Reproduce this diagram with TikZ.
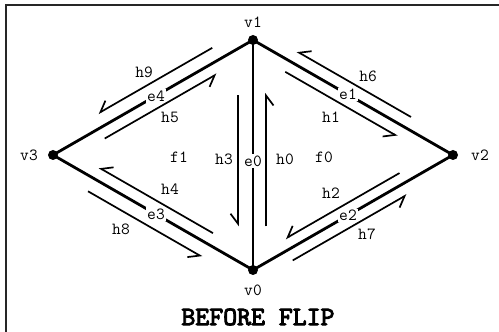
\documentclass[tikz,border=0pt]{standalone}
\usepackage{fontspec}
\newfontfamily\titlefont{lmmono10-regular.otf}[FakeBold=3.5]
\usetikzlibrary{calc,arrows.meta}
\begin{document}
\begin{tikzpicture}[x=1pt,y=1pt,
  vert/.style={circle,fill=black,inner sep=0pt,minimum size=10pt},
  edge/.style={line width=2.8pt},
  half/.style={line width=1.7pt,-{Straight Barb[harpoon,swap,length=10pt,width=15pt]}},
  lab/.style={font=\ttfamily\fontsize{17}{19}\selectfont,inner sep=1pt},
  elabel/.style={lab,fill=white,inner sep=1.5pt},
  frame/.style={line width=2pt,black!85}]
\useasboundingbox (0,0) rectangle (499,332);
\draw[frame] (6,0) -- (6,327) -- (499,327);
% vertices
\node[vert] (v0) at (253,62) {};
\node[vert] (v1) at (253,292) {};
\node[vert] (v2) at (453,177) {};
\node[vert] (v3) at (53,177) {};
\node[lab] at (253,310) {v1};
\node[lab] at (253,42) {v0};
\node[lab] at (29,177) {v3};
\node[lab] at (480,177) {v2};
% edges
\draw[edge] (v0.center) -- node[elabel,pos=.474] (e0) {e0} (v1.center);
\draw[edge] (v1.center) -- node[elabel,pos=.475] (e1) {e1} (v2.center);
\draw[edge] (v0.center) -- node[elabel,pos=.475] (e2) {e2} (v2.center);
\draw[edge] (v0.center) -- node[elabel,pos=.485] (e3) {e3} (v3.center);
\draw[edge] (v1.center) -- node[elabel,pos=.485] (e4) {e4} (v3.center);
% half-edges
\draw[half] ($(v0)!.19!(v1)!13pt!-90:(v1)$) coordinate (h0a) -- ($(v0)!.77!(v1)!13pt!-90:(v1)$) coordinate (h0b);
\draw[half] ($(v1)!.24!(v0)!15pt!-90:(v0)$) coordinate (h3a) -- ($(v1)!.81!(v0)!15pt!-90:(v0)$) coordinate (h3b);
\draw[half] ($(v1)!.19!(v2)!11.5pt!-90:(v2)$) coordinate (h1a) -- ($(v1)!.75!(v2)!11.5pt!-90:(v2)$) coordinate (h1b);
\draw[half] ($(v2)!.24!(v1)!12pt!-90:(v1)$) coordinate (h6a) -- ($(v2)!.81!(v1)!12pt!-90:(v1)$) coordinate (h6b);
\draw[half] ($(v2)!.24!(v0)!11pt!-90:(v0)$) coordinate (h2a) -- ($(v2)!.81!(v0)!11pt!-90:(v0)$) coordinate (h2b);
\draw[half] ($(v0)!.17!(v2)!11.5pt!-90:(v2)$) coordinate (h7a) -- ($(v0)!.74!(v2)!11.5pt!-90:(v2)$) coordinate (h7b);
\draw[half] ($(v0)!.23!(v3)!12pt!-90:(v3)$) coordinate (h4a) -- ($(v0)!.80!(v3)!12pt!-90:(v3)$) coordinate (h4b);
\draw[half] ($(v3)!.21!(v0)!14pt!-90:(v0)$) coordinate (h8a) -- ($(v3)!.78!(v0)!14pt!-90:(v0)$) coordinate (h8b);
\draw[half] ($(v3)!.23!(v1)!11.5pt!-90:(v1)$) coordinate (h5a) -- ($(v3)!.79!(v1)!11.5pt!-90:(v1)$) coordinate (h5b);
\draw[half] ($(v1)!.17!(v3)!13.5pt!-90:(v3)$) coordinate (h9a) -- ($(v1)!.74!(v3)!13.5pt!-90:(v3)$) coordinate (h9b);
% half-edge labels
\node[lab] at (285,173) {h0};
\node[lab] at (224,173) {h3};
\node[lab] at (331,215) {h1};
\node[lab] at (368,256) {h6};
\node[lab] at (331,139) {h2};
\node[lab] at (367,98) {h7};
\node[lab] at (170,143) {h4};
\node[lab] at (121,103) {h8};
\node[lab] at (170,215) {h5};
\node[lab] at (144,260) {h9};
% faces
\node[lab] (f0) at (324,175) {f0};
\node[lab] (f1) at (179,175) {f1};
% title
\node[font=\titlefont\fontsize{26.5}{28}\selectfont] (title) at (258,15) {BEFORE FLIP};
\end{tikzpicture}
\end{document}
